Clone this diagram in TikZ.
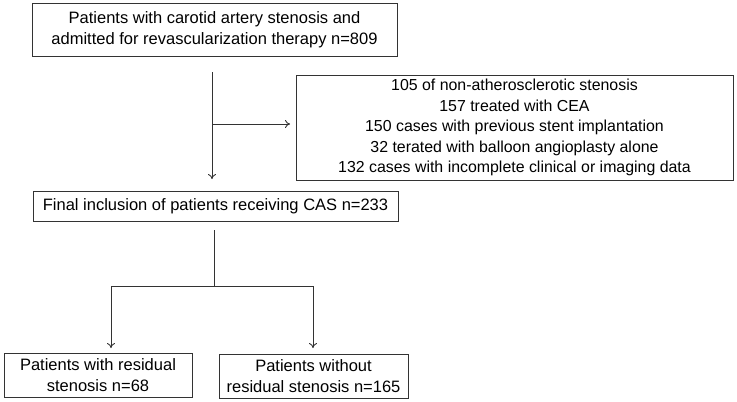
\documentclass[tikz,border=0pt]{standalone}
\usepackage{fontspec}
\setmainfont{Liberation Sans}
\usetikzlibrary{arrows.meta}
\begin{document}
\begin{tikzpicture}[x=1pt,y=-1pt,
  box/.style={draw=black!80,line width=0.9pt,inner sep=0pt,align=center,
    font=\fontsize{16.5}{21}\selectfont,text=black},
  smallbox/.style={box,font=\fontsize{15.9}{20.5}\selectfont},
  link/.style={draw=black!80,line width=0.9pt},
  arr/.style={link,-{To[length=5pt,width=8pt]}}]
\useasboundingbox (0,0) rectangle (737,402);
\node[box,minimum width=365pt,minimum height=53pt] (top) at (214.5,29.5)
  {Patients with carotid artery stenosis and\\admitted for revascularization therapy n=809};
\node[smallbox,minimum width=437pt,minimum height=105pt] (excl) at (514.5,127.5)
  {105 of non-atherosclerotic stenosis\\157 treated with CEA\\150 cases with previous stent implantation\\32 terated with balloon angioplasty alone\\132 cases with incomplete clinical or imaging data};
\node[box,minimum width=365pt,minimum height=30pt] (final) at (215.5,206)
  {Final inclusion of patients receiving CAS n=233};
\node[box,minimum width=188pt,minimum height=44pt] (left) at (98,375)
  {Patients with residual\\stenosis n=68};
\node[box,minimum width=189pt,minimum height=44pt] (right) at (313.5,376)
  {Patients without\\residual stenosis n=165};
\coordinate (a1) at (212,72);
\coordinate (a2) at (212,179);
\coordinate (a3) at (212,124);
\coordinate (a4) at (290,124);
\coordinate (b1) at (214,230);
\coordinate (b2) at (214,286);
\coordinate (bl) at (111,286);
\coordinate (br) at (313,286);
\coordinate (cl) at (111,348);
\coordinate (cr) at (313,348);
\draw[arr] (a1) -- (a2);
\draw[arr] (a3) -- (a4);
\draw[link] (b1) -- (b2);
\draw[link] (bl) -- (br);
\draw[arr] (bl) -- (cl);
\draw[arr] (br) -- (cr);
\end{tikzpicture}
\end{document}
